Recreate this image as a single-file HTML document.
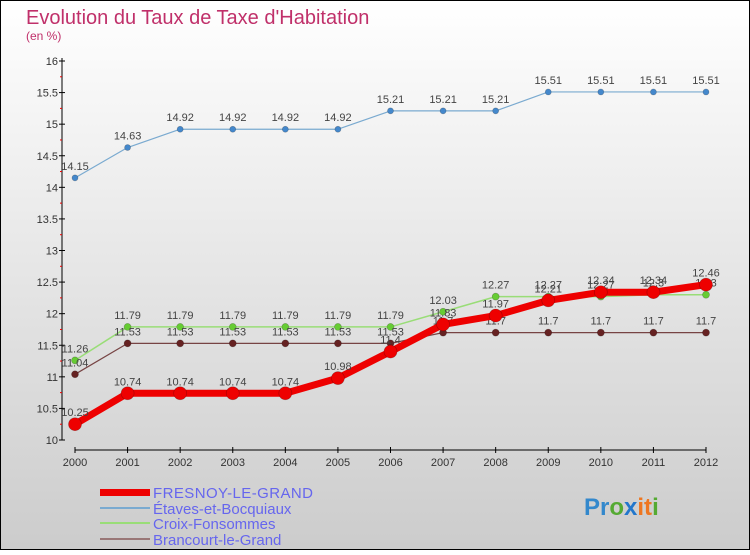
<!DOCTYPE html>
<html><head><meta charset="utf-8"><style>
body{margin:0;width:750px;height:550px;overflow:hidden;font-family:"Liberation Sans",sans-serif}
</style></head><body>
<svg id="c" width="750" height="550" xmlns="http://www.w3.org/2000/svg">
<defs><linearGradient id="bg" x1="0" y1="0" x2="0" y2="1"><stop offset="0" stop-color="#ffffff"/><stop offset="1" stop-color="#cccccc"/></linearGradient></defs>
<rect x="0.5" y="0.5" width="749" height="549" fill="url(#bg)" stroke="#000"/>
<text x="26" y="24" font-size="20" fill="#c0306a">Evolution du Taux de Taxe d'Habitation</text>
<text x="26" y="40" font-size="12" fill="#c0306a">(en %)</text>
<g id="axes"></g><g id="series"></g>
<g font-size="15" fill="#6666ee">
<rect x="100" y="489" width="50" height="7" fill="#ee0000"/>
<text x="153" y="498" textLength="160">FRESNOY-LE-GRAND</text>
<rect x="100" y="507" width="50" height="2" fill="#7aaad0"/>
<text x="153" y="514">Étaves-et-Bocquiaux</text>
<rect x="100" y="522" width="50" height="2" fill="#99dd77"/>
<text x="153" y="529">Croix-Fonsommes</text>
<rect x="100" y="538" width="50" height="2" fill="#997777"/>
<text x="153" y="545">Brancourt-le-Grand</text>
</g>
<text x="584" y="515" font-size="24" font-weight="bold"><tspan fill="#3388cc">Pr</tspan><tspan fill="#55aa33">o</tspan><tspan fill="#2277cc">x</tspan><tspan fill="#ee7722">it</tspan><tspan fill="#55aa33">i</tspan></text>
</svg>
<script>
const years=[2000,2001,2002,2003,2004,2005,2006,2007,2008,2009,2010,2011,2012];
const yTicks=[10,10.5,11,11.5,12,12.5,13,13.5,14,14.5,15,15.5,16];
const fresnoy=[10.25,10.74,10.74,10.74,10.74,10.98,11.4,11.83,11.97,12.21,12.34,12.34,12.46];
const etaves=[14.15,14.63,14.92,14.92,14.92,14.92,15.21,15.21,15.21,15.51,15.51,15.51,15.51];
const croix=[11.26,11.79,11.79,11.79,11.79,11.79,11.79,12.03,12.27,12.27,12.27,12.3,12.3];
const brancourt=[11.04,11.53,11.53,11.53,11.53,11.53,11.53,11.7,11.7,11.7,11.7,11.7,11.7];
const NS="http://www.w3.org/2000/svg";
const X=i=>75+i*(706-75)/12;
const Y=v=>440-(v-10)*(440-61)/6;
function mk(t,a,p){const e=document.createElementNS(NS,t);for(const k in a)e.setAttribute(k,a[k]);p.appendChild(e);return e;}
const ax=document.getElementById('axes');
let l=mk('line',{x1:62,y1:58,x2:62,y2:440,stroke:'#000'},ax);


l=mk('line',{x1:75,y1:450,x2:706,y2:450,stroke:'#000'},ax);


yTicks.forEach((v,i)=>{
 mk('line',{x1:59,y1:Y(v),x2:65,y2:Y(v),stroke:'#000'},ax);
 if(i<yTicks.length-1)mk('line',{x1:60,y1:Y(v+0.25),x2:62,y2:Y(v+0.25),stroke:'#e00'},ax);
 const t=mk('text',{x:58,y:Y(v)+4,'text-anchor':'end','font-size':11,fill:'#333'},ax);t.textContent=String(v);
 
 
});
years.forEach((y,i)=>{
 mk('line',{x1:X(i),y1:447,x2:X(i),y2:453,stroke:'#000'},ax);
 const t=mk('text',{x:X(i),y:466,'text-anchor':'middle','font-size':11,fill:'#333'},ax);t.textContent=y;
 
 
});
const sg=document.getElementById('series');
function series(name,data,col,w,r,dot){
 const g=mk('g',{},sg);
 
 
 mk('polyline',{points:data.map((v,i)=>X(i)+','+Y(v)).join(' '),fill:'none',stroke:col,'stroke-width':w,'stroke-linejoin':'round'},g);
 data.forEach((v,i)=>{
  const c=mk('circle',{cx:X(i),cy:Y(v),r:r,fill:dot,stroke:'rgba(0,0,0,0.25)','stroke-width':0.7},g);
  
  
  const t=mk('text',{x:X(i),y:Y(v)-8,'text-anchor':'middle','font-size':11,fill:'#444'},g);t.textContent=String(v);
  
  
 });
}
series('etaves',etaves,'#7aaad0',1.2,3,'#4488cc');
series('croix',croix,'#99dd77',1.5,3.5,'#66cc33');
series('brancourt',brancourt,'#774444',1.2,3.5,'#662222');
series('fresnoy',fresnoy,'#ee0000',7,6.5,'#ee0000');
</script>
</body></html>
